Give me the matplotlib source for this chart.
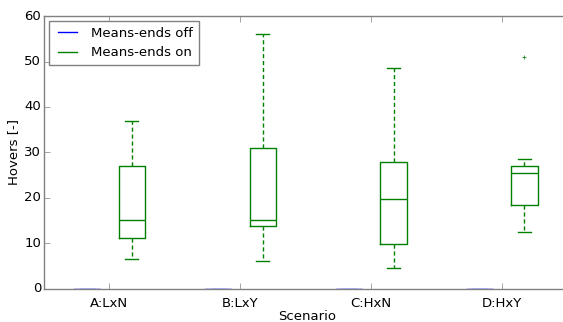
import matplotlib
matplotlib.use("Agg")
import matplotlib.pyplot as plt
from matplotlib.lines import Line2D

plt.style.use("classic")

scenarios = ["A:LxN", "B:LxY", "C:HxN", "D:HxY"]

# box statistics for "means-ends on"
on_whislo = [6.5, 6.0, 4.5, 12.5]
on_q1 = [11.2, 13.8, 9.8, 18.5]
on_med = [15.0, 15.0, 19.7, 25.4]
on_q3 = [27.0, 31.0, 27.8, 27.0]
on_whishi = [37.0, 56.0, 48.5, 28.5]
on_fliers = [[], [], [], [51.0]]

# "means-ends off" hovers are all zero
off_vals = [0, 0, 0, 0]


def make_stats(lo, q1, med, q3, hi, fl):
    return [dict(whislo=a, q1=b, med=c, q3=d, whishi=e, fliers=f)
            for a, b, c, d, e, f in zip(lo, q1, med, q3, hi, fl)]


off_stats = make_stats(off_vals, off_vals, off_vals, off_vals, off_vals,
                       [[] for _ in off_vals])
on_stats = make_stats(on_whislo, on_q1, on_med, on_q3, on_whishi, on_fliers)

fig = plt.figure(figsize=(5.63, 3.22), dpi=100, facecolor="white")
ax = fig.add_axes([0.078, 0.104, 0.935, 0.846])

pos = list(range(1, len(scenarios) + 1))
width = 0.2
offset = 0.17


def style(bp, color):
    for key in ["boxes", "medians", "caps"]:
        for ln in bp[key]:
            ln.set_color(color)
            ln.set_linestyle("-")
            ln.set_linewidth(1.0)
    for ln in bp["whiskers"]:
        ln.set_color(color)
        ln.set_linewidth(1.0)
        ln.set_dashes([3, 2])
    for ln in bp["fliers"]:
        ln.set_marker("+")
        ln.set_markeredgecolor(color)
        ln.set_markeredgewidth(0.5)
        ln.set_markersize(3)
        ln.set_linestyle("none")


bp_off = ax.bxp(off_stats, positions=[p - offset for p in pos], widths=width,
                manage_ticks=False)
bp_on = ax.bxp(on_stats, positions=[p + offset for p in pos], widths=width,
               manage_ticks=False)
style(bp_off, (0.55, 0.55, 1.0))
style(bp_on, "g")

ax.set_xlim(0.5, 4.52)
ax.set_ylim(0, 60)
ax.set_xticks(pos)
ax.set_xticklabels(scenarios)
ax.set_yticks(range(0, 61, 10))
ax.tick_params(labelsize=9.5, color="gray")
ax.tick_params(axis="y", pad=2, right=False)
ax.tick_params(axis="x", pad=6)
for sp in ax.spines.values():
    sp.set_color("gray")
ax.spines["right"].set_visible(False)

ax.set_xlabel("Scenario", fontsize=9.5, labelpad=0)
ax.set_ylabel("Hovers [-]", fontsize=9.5, labelpad=3)

handles = [Line2D([], [], color="b"), Line2D([], [], color="g")]
leg = ax.legend(handles, ["Means-ends off", "Means-ends on"], loc="upper left",
                fontsize=9.5, borderaxespad=0.4)
leg.get_frame().set_edgecolor("gray")

fig.savefig("out.png", dpi=100, facecolor="white")
